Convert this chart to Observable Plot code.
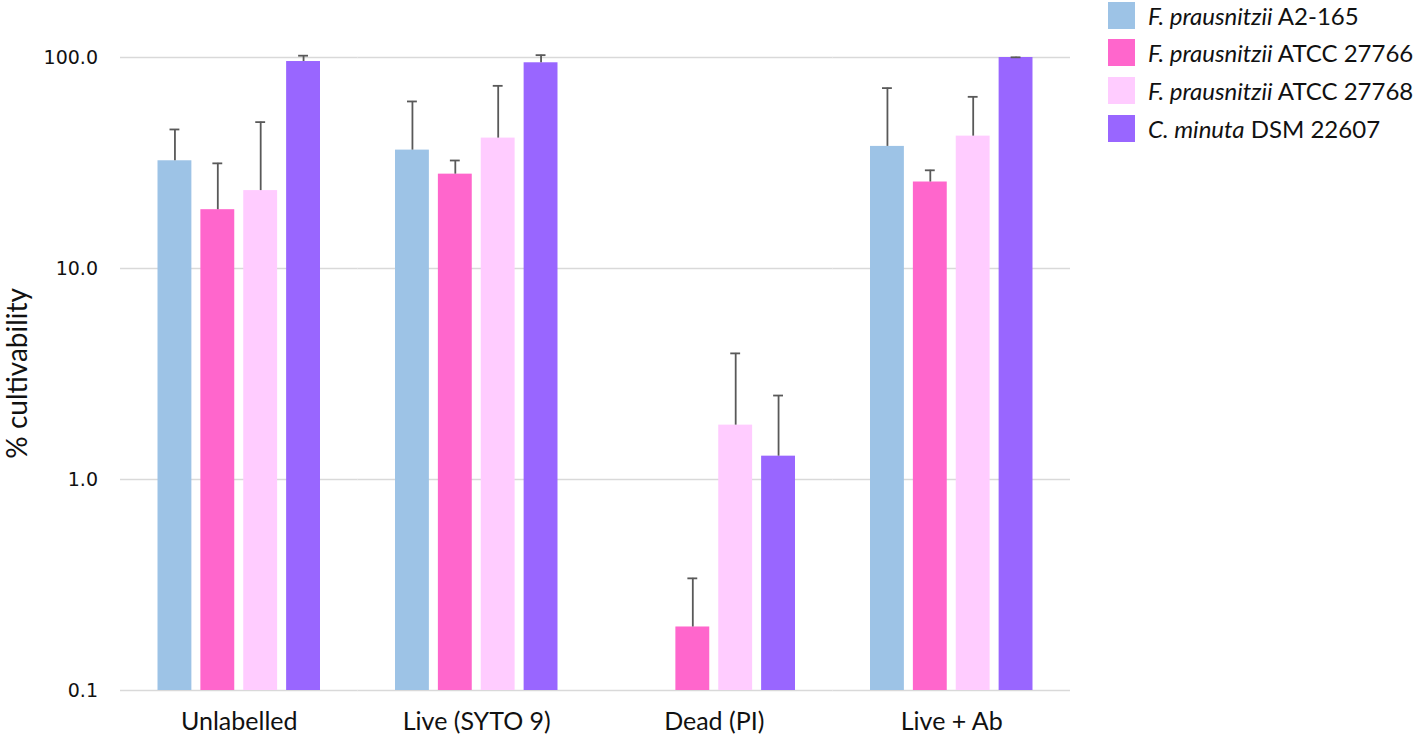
<!DOCTYPE html>
<html>
<head>
<meta charset="utf-8">
<script src="https://cdn.jsdelivr.net/npm/d3@7"></script>
<script src="https://cdn.jsdelivr.net/npm/@observablehq/plot@0.6"></script>
<style>
  html, body { margin: 0; padding: 0; background: #fff; }
  #wrap { position: relative; width: 1416px; height: 740px; overflow: hidden; }
  #legend { position: absolute; left: 1108px; top: 1px; font-family: Lato, "Open Sans", sans-serif; font-size: 24px; color: #111; }
  .row { display: flex; align-items: center; height: 28px; margin-bottom: 9.7px; }
  .sw { width: 27px; height: 27px; margin-right: 13px; flex: none; }
  #ylabelbox { position: absolute; left: 1px; top: 57px; width: 30px; height: 633px; display: flex; align-items: center; justify-content: center; }
  #ylabel { writing-mode: vertical-rl; transform: rotate(180deg); font-family: Lato, sans-serif; font-size: 28px; line-height: 1; color: #111; white-space: nowrap; }
</style>
</head>
<body>
<div id="wrap">
  <div id="chart"></div>
  <div id="ylabelbox"><span id="ylabel">% cultivability</span></div>
  <div id="legend"></div>
</div>
<script>
const groups = ["Unlabelled", "Live (SYTO 9)", "Dead (PI)", "Live + Ab"];
const series = ["F. prausnitzii A2-165", "F. prausnitzii ATCC 27766", "F. prausnitzii ATCC 27768", "C. minuta DSM 22607"];
const legendItalic = ["F. prausnitzii", "F. prausnitzii", "F. prausnitzii", "C. minuta"];
const legendRest = ["A2-165", "ATCC 27766", "ATCC 27768", "DSM 22607"];
const colors = ["#9DC3E6", "#FF66CC", "#FFCCFF", "#9966FF"];

// mean % cultivability per group (Unlabelled, Live, Dead, Live+Ab)
const meanA2165 = [32.4, 36.4, null, 37.9];
const meanATCC27766 = [19.0, 28.0, 0.20, 25.7];
const meanATCC27768 = [23.4, 41.5, 1.81, 42.4];
const meanCminuta = [95.7, 94.4, 1.29, 100.0];
// standard deviation (upper error bar)
const sdA2165 = [13.2, 25.5, null, 33.7];
const sdATCC27766 = [12.5, 4.5, 0.14, 3.5];
const sdATCC27768 = [26.0, 31.9, 2.15, 22.7];
const sdCminuta = [6.3, 8.2, 1.21, 0.2];

const yTicks = [0.1, 1, 10, 100];
const baseline = yTicks[0];

const means = [meanA2165, meanATCC27766, meanATCC27768, meanCminuta];
const sds = [sdA2165, sdATCC27766, sdATCC27768, sdCminuta];
const rows = [];
series.forEach((s, si) => groups.forEach((g, gi) => {
  const v = means[si][gi];
  if (v == null) return;
  rows.push({group: g, series: s, value: v, upper: v + sds[si][gi]});
}));

const errColor = "#595959";
const chart = Plot.plot({
  width: 1416,
  height: 740,
  marginLeft: 120,
  marginRight: 346,
  marginTop: 57,
  marginBottom: 50,
  style: {background: "white", fontFamily: "Lato, sans-serif", color: "#111"},
  fx: {domain: groups, paddingInner: 0.24, paddingOuter: 0.12, round: false, label: null, axis: null},
  x: {domain: series, padding: 0.21, round: false, axis: null},
  y: {type: "log", domain: [0.1, 100], axis: null},
  color: {domain: series, range: colors},
  marks: [
    Plot.ruleY(yTicks, {stroke: "#d9d9d9", strokeWidth: 1.5, insetLeft: -28.5, insetRight: -28.5}),
    Plot.barY(rows, {fx: "group", x: "series", y1: baseline, y2: "value", fill: "series"}),
    Plot.ruleX(rows, {fx: "group", x: "series", y1: "value", y2: "upper", stroke: errColor, strokeWidth: 1.8}),
    Plot.tickY(rows, {fx: "group", x: "series", y: "upper", stroke: errColor, strokeWidth: 1.8, insetLeft: 12, insetRight: 12}),
    Plot.axisY({ticks: yTicks, tickFormat: d3.format(".1f"), tickSize: 0, tickPadding: 51, fontSize: 19, fontFamily: "DejaVu Sans", fill: "#111", label: null}),
    Plot.axisFx({anchor: "bottom", tickSize: 0, tickPadding: 22, fontSize: 25, fill: "#111", label: null})
  ]
});
document.getElementById("chart").appendChild(chart);

const legend = document.getElementById("legend");
series.forEach((s, i) => {
  const row = document.createElement("div");
  row.className = "row";
  const sw = document.createElement("div");
  sw.className = "sw";
  sw.style.background = colors[i];
  const txt = document.createElement("span");
  const it = document.createElement("i");
  it.textContent = legendItalic[i];
  txt.appendChild(it);
  txt.appendChild(document.createTextNode(" " + legendRest[i]));
  row.appendChild(sw);
  row.appendChild(txt);
  legend.appendChild(row);
});
</script>
</body>
</html>
